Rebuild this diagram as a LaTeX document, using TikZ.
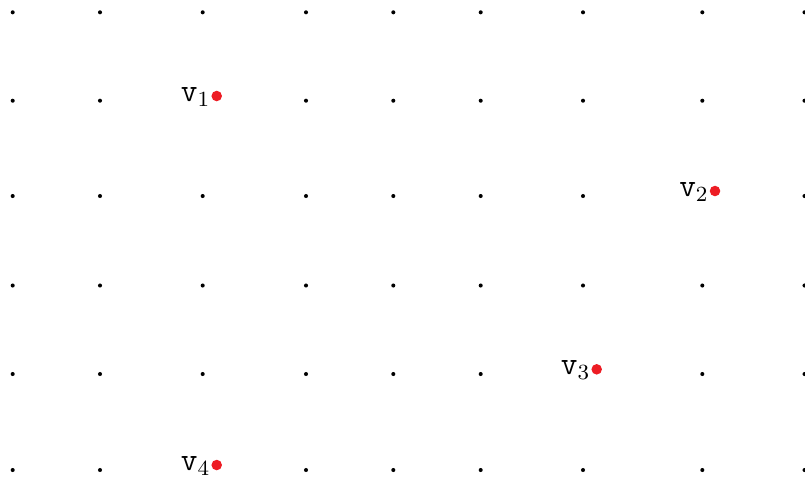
\documentclass[tikz,border=0pt]{standalone}
\definecolor{vred}{RGB}{237,28,36}
\begin{document}
\begin{tikzpicture}[x=0.37pt,y=-0.37pt,
  griddot/.style={circle,fill=black,inner sep=0pt,minimum size=1.5pt},
  vertex/.style={circle,fill=vred,inner sep=0pt,minimum size=3.9pt},
  vlabel/.style={inner sep=0pt,anchor=base east,font=\large}]
\useasboundingbox (0,0) rectangle (805,479);
\foreach \x [count=\i] in {12.7,100,202.7,306,393.3,480.7,583,702.3,804.5}{
  \foreach \y [count=\j] in {12.3,100.7,196,285.5,374,470}{
    \pgfmathtruncatemacro\hide{or(and(\i==3,or(\j==2,\j==6)),or(and(\i==8,\j==3),and(\i==7,\j==5)))}
    \ifnum\hide=0
      \node[griddot] (g-\i-\j) at (\x,\y) {};
    \fi
  }
}
\node[vertex] (v1) at (216.7,96) {};
\node[vertex] (v2) at (715,191) {};
\node[vertex] (v3) at (596.7,369.3) {};
\node[vertex] (v4) at (216.7,465) {};
\foreach \n/\k in {v1/1,v2/2,v3/3,v4/4}{
  \node[vlabel] (l\k) at ([xshift=-2.1pt,yshift=-1.9pt]\n.center) {$\mathtt{v}_{\k}$};
}
\end{tikzpicture}
\end{document}
